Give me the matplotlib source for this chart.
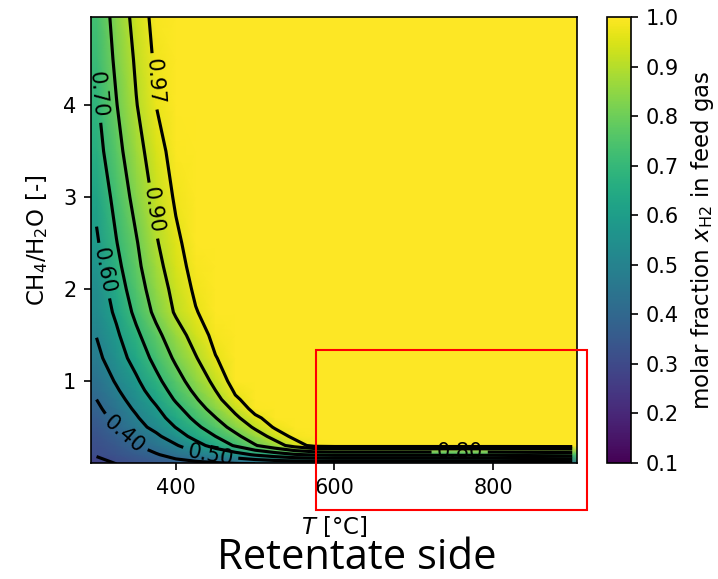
#!/usr/bin/env python3
''' Feed gas H2 fraction map over temperature and CH4/H2O ratio
'''

import numpy as np
import matplotlib
matplotlib.use('Agg')
from matplotlib import pyplot
from matplotlib.patches import Rectangle

#
# data
#

temp_c = [300, 325, 350, 375, 400, 425, 450, 475, 500, 525, 550, 575,
          600, 700, 800, 900]
# the map's outer cells reach a little past the first/last temperature
temp_edges = [293, 906]
ch4_h2o = [0.1, 0.2, 0.3, 0.4, 0.5, 0.6, 0.7, 0.8, 0.9, 1.0, 1.25, 1.5,
           1.75, 2.0, 2.25, 2.5, 3.0, 3.5, 4.0, 4.5, 4.96]

# one list per CH4/H2O row, values along temp_c
x_r010 = [0.26, 0.30, 0.32, 0.34, 0.36, 0.37, 0.38, 0.39, 0.40, 0.41, 0.41,
          0.41, 0.41, 0.41, 0.41, 0.42]
x_r020 = [0.31, 0.33, 0.36, 0.392, 0.433, 0.475, 0.517, 0.56, 0.61, 0.65,
          0.69, 0.71, 0.72, 0.72, 0.72, 0.74]
x_r030 = [0.315, 0.349, 0.396, 0.443, 0.491, 0.563, 0.637, 0.71, 0.793,
          0.861, 0.935, 0.993, 1.0, 1.0, 1.0, 1.0]
x_r040 = [0.33, 0.374, 0.428, 0.481, 0.553, 0.631, 0.70, 0.778, 0.855, 0.93,
          0.988, 1.0, 1.0, 1.0, 1.0, 1.0]
x_r050 = [0.343, 0.402, 0.467, 0.527, 0.603, 0.679, 0.755, 0.833, 0.914,
          0.978, 1.0, 1.0, 1.0, 1.0, 1.0, 1.0]
x_r060 = [0.362, 0.426, 0.49, 0.562, 0.64, 0.721, 0.797, 0.883, 0.956, 1.0,
          1.0, 1.0, 1.0, 1.0, 1.0, 1.0]
x_r070 = [0.382, 0.447, 0.515, 0.588, 0.675, 0.756, 0.838, 0.92, 0.994, 1.0,
          1.0, 1.0, 1.0, 1.0, 1.0, 1.0]
x_r080 = [0.40, 0.468, 0.539, 0.619, 0.71, 0.79, 0.873, 0.96, 1.0, 1.0,
          1.0, 1.0, 1.0, 1.0, 1.0, 1.0]
x_r090 = [0.419, 0.489, 0.564, 0.648, 0.737, 0.819, 0.90, 0.98, 1.0, 1.0,
          1.0, 1.0, 1.0, 1.0, 1.0, 1.0]
x_r100 = [0.437, 0.509, 0.585, 0.674, 0.762, 0.844, 0.922, 1.0, 1.0, 1.0,
          1.0, 1.0, 1.0, 1.0, 1.0, 1.0]
x_r125 = [0.476, 0.553, 0.637, 0.729, 0.816, 0.894, 0.967, 1.0, 1.0, 1.0,
          1.0, 1.0, 1.0, 1.0, 1.0, 1.0]
x_r150 = [0.503, 0.584, 0.68, 0.774, 0.86, 0.935, 0.988, 1.0, 1.0, 1.0,
          1.0, 1.0, 1.0, 1.0, 1.0, 1.0]
x_r175 = [0.532, 0.617, 0.724, 0.823, 0.911, 0.966, 1.0, 1.0, 1.0, 1.0,
          1.0, 1.0, 1.0, 1.0, 1.0, 1.0]
x_r200 = [0.539, 0.648, 0.752, 0.85, 0.928, 0.981, 1.0, 1.0, 1.0, 1.0,
          1.0, 1.0, 1.0, 1.0, 1.0, 1.0]
x_r225 = [0.565, 0.674, 0.776, 0.873, 0.946, 0.991, 1.0, 1.0, 1.0, 1.0,
          1.0, 1.0, 1.0, 1.0, 1.0, 1.0]
x_r250 = [0.587, 0.696, 0.792, 0.892, 0.957, 1.0, 1.0, 1.0, 1.0, 1.0,
          1.0, 1.0, 1.0, 1.0, 1.0, 1.0]
x_r300 = [0.623, 0.732, 0.832, 0.921, 0.979, 1.0, 1.0, 1.0, 1.0, 1.0,
          1.0, 1.0, 1.0, 1.0, 1.0, 1.0]
x_r350 = [0.663, 0.767, 0.868, 0.946, 0.994, 1.0, 1.0, 1.0, 1.0, 1.0,
          1.0, 1.0, 1.0, 1.0, 1.0, 1.0]
x_r400 = [0.687, 0.796, 0.896, 0.97, 1.0, 1.0, 1.0, 1.0, 1.0, 1.0,
          1.0, 1.0, 1.0, 1.0, 1.0, 1.0]
x_r450 = [0.709, 0.819, 0.913, 0.982, 1.0, 1.0, 1.0, 1.0, 1.0, 1.0,
          1.0, 1.0, 1.0, 1.0, 1.0, 1.0]
x_r496 = [0.727, 0.836, 0.932, 0.991, 1.0, 1.0, 1.0, 1.0, 1.0, 1.0,
          1.0, 1.0, 1.0, 1.0, 1.0, 1.0]

contour_levels = [0.3, 0.4, 0.5, 0.6, 0.7, 0.8, 0.9, 0.97]
# where the contour labels sit (T, CH4/H2O)
label_spots = [(308, 4.12), (373, 4.26), (376, 2.86), (314, 2.21),
               (336, 0.43), (443, 0.17), (758, 0.23)]
cbar_ticks = [0.1, 0.2, 0.3, 0.4, 0.5, 0.6, 0.7, 0.8, 0.9, 1.0]

#
# main
#

if __name__ == '__main__':

    xh2 = np.array([x_r010, x_r020, x_r030, x_r040, x_r050, x_r060, x_r070,
                    x_r080, x_r090, x_r100, x_r125, x_r150, x_r175, x_r200,
                    x_r225, x_r250, x_r300, x_r350, x_r400, x_r450, x_r496])
    T = np.array(temp_c, dtype=float)
    R = np.array(ch4_h2o, dtype=float)
    # outer half-cells of the map carry the edge column values
    T_map = np.array([temp_edges[0]] + temp_c + [temp_edges[1]], dtype=float)
    xh2_map = np.pad(xh2, ((0, 0), (1, 1)), mode='edge')

    pyplot.rcParams['font.family'] = 'DejaVu Sans'
    pyplot.rcParams['font.size'] = 10
    pyplot.rcParams['mathtext.fontset'] = 'dejavusans'

    W, H = 718, 579
    fig = pyplot.figure(figsize=(W/150, H/150), dpi=150)
    ax = fig.add_axes([91/W, 1-463/H, 486/W, 446/H])
    cax = fig.add_axes([607/W, 1-463/H, 24/W, 446/H])

    mesh = ax.pcolormesh(T_map, R, xh2_map, shading='gouraud',
                         cmap='viridis', vmin=0.1, vmax=1.0)
    cs = ax.contour(T, R, xh2, levels=contour_levels, colors='k')
    ax.clabel(cs, fmt='%.2f', inline=True, manual=label_spots)

    ax.set_xlim(T_map[0], T_map[-1])
    ax.set_ylim(0.11, R[-1])
    ax.set_xticks([400, 600, 800])
    ax.set_yticks([1, 2, 3, 4])
    ax.set_xlabel('$T$ [°C]', fontsize=11, labelpad=8)
    ax.set_ylabel('CH$_4$/H$_2$O [-]', fontsize=11, labelpad=6.5)

    cb = fig.colorbar(mesh, cax=cax, ticks=cbar_ticks)
    cb.set_label(r'molar fraction $x_{\mathrm{H2}}$ in feed gas',
                 fontsize=11, labelpad=5)

    # red box marking the zone of interest, drawn on the figure
    fig.add_artist(Rectangle((316/W, 1-510/H), 271/W, 160/H,
                             transform=fig.transFigure, fill=False,
                             edgecolor='red', lw=1.0, zorder=10))

    fig.text(357/W, 1-558/H, 'Retentate side', ha='center', va='center',
             fontsize=20, family=['Open Sans', 'DejaVu Sans'])

    fig.savefig('out.png', dpi=150)
